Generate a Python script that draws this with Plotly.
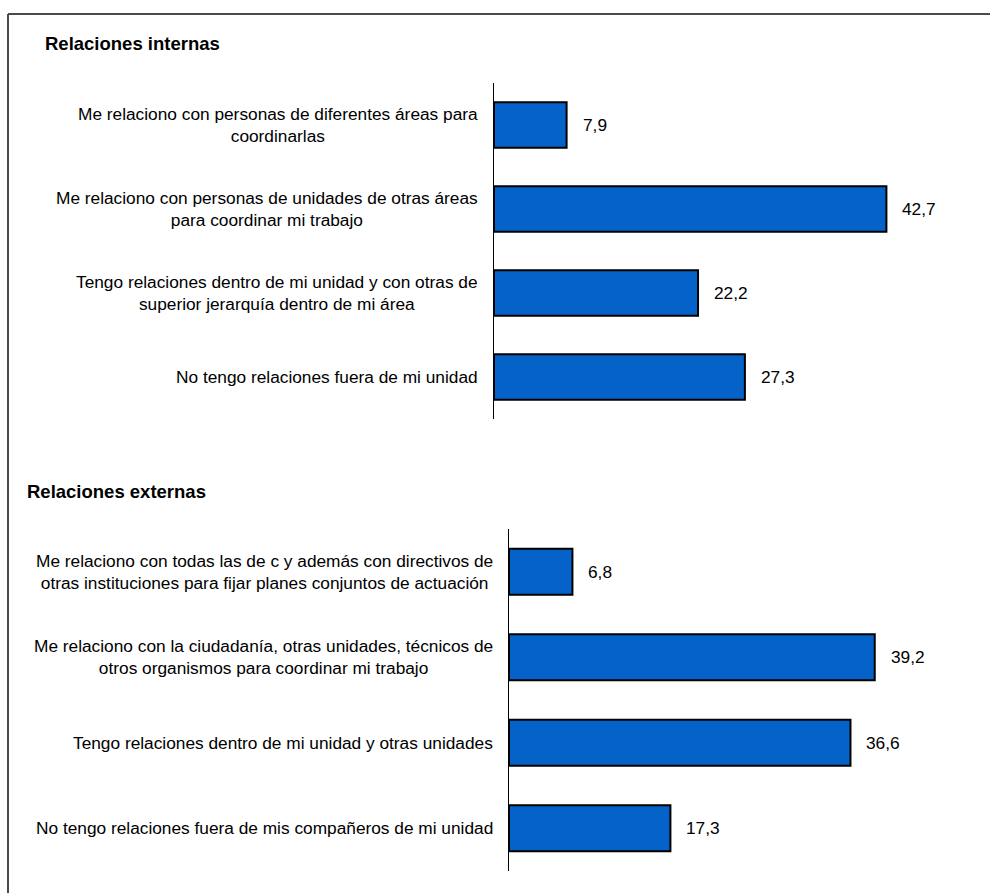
import plotly.graph_objects as go

# Relaciones internas
internas_labels = [
    ["Me relaciono con personas de diferentes áreas para", "coordinarlas"],
    ["Me relaciono con personas de unidades de otras áreas", "para coordinar mi trabajo"],
    ["Tengo relaciones dentro de mi unidad y con otras de", "superior jerarquía dentro de mi área"],
    ["No tengo relaciones fuera de mi unidad"],
]
internas_values = [7.9, 42.7, 22.2, 27.3]

# Relaciones externas
externas_labels = [
    ["Me relaciono con todas las de c y además con directivos de",
     "otras instituciones para fijar planes conjuntos de actuación"],
    ["Me relaciono con la ciudadanía, otras unidades, técnicos de",
     "otros organismos para coordinar mi trabajo"],
    ["Tengo relaciones dentro de mi unidad y otras unidades"],
    ["No tengo relaciones fuera de mis compañeros de mi unidad"],
]
externas_values = [6.8, 39.2, 36.6, 17.3]

section_titles = ["Relaciones internas", "Relaciones externas"]

W, H = 990, 893
FONT = "Arial, Liberation Sans, sans-serif"
BAR_COLOR = "#0462C8"
LABEL_SIZE = 17.3
TITLE_SIZE = 18.5


def fmt(v):
    return f"{v:.1f}".replace(".", ",")


def cat_key(lines):
    return " ".join(lines)


fig = go.Figure()
annotations = []

panels = [
    (internas_labels, internas_values, "x", "y"),
    (externas_labels, externas_values, "x2", "y2"),
]
for labels, values, xr, yr in panels:
    cats = [cat_key(l) for l in labels]
    fig.add_trace(go.Bar(
        x=values, y=cats, orientation="h",
        marker=dict(color=BAR_COLOR, line=dict(color="#000000", width=2)),
        xaxis=xr, yaxis=yr, showlegend=False, hoverinfo="x+y",
    ))
    for lines, cat, v in zip(labels, cats, values):
        # value label to the right of each bar
        annotations.append(dict(x=v, y=cat, xref=xr, yref=yr, text=fmt(v),
                                showarrow=False, xanchor="left", xshift=14,
                                font=dict(family=FONT, size=LABEL_SIZE, color="#000")))
        # category label: block right-aligned against the axis, lines centred
        annotations.append(dict(
            x=0, y=cat, xref=xr, yref=yr, text="<br>".join(lines),
            showarrow=False, align="center", xanchor="right", yanchor="middle",
            xshift=-14, font=dict(family=FONT, size=LABEL_SIZE, color="#000")))

annotations.append(dict(x=43 / W, y=1 - 43.5 / H, xref="paper", yref="paper",
                        text=f"<b>{section_titles[0]}</b>", showarrow=False,
                        xanchor="left", yanchor="middle",
                        font=dict(family=FONT, size=TITLE_SIZE, color="#000")))
annotations.append(dict(x=25 / W, y=1 - 491.5 / H, xref="paper", yref="paper",
                        text=f"<b>{section_titles[1]}</b>", showarrow=False,
                        xanchor="left", yanchor="middle",
                        font=dict(family=FONT, size=TITLE_SIZE, color="#000")))

axis_x = dict(visible=False, range=[0, 50], fixedrange=True)
axis_y = dict(showline=True, linecolor="#000000", linewidth=1, ticks="",
              showticklabels=False, showgrid=False, zeroline=False,
              autorange="reversed")

fig.update_layout(
    width=W, height=H,
    margin=dict(l=0, r=0, t=0, b=0),
    paper_bgcolor="white", plot_bgcolor="white",
    bargap=0.46,
    xaxis=dict(axis_x, domain=[494 / W, (494 + 9.19 * 50) / W], anchor="y"),
    yaxis=dict(axis_y, domain=[1 - 419 / H, 1 - 83 / H], anchor="x"),
    xaxis2=dict(axis_x, domain=[509 / W, (509 + 9.33 * 50) / W], anchor="y2"),
    yaxis2=dict(axis_y, domain=[1 - 871 / H, 1 - 529 / H], anchor="x2"),
    annotations=annotations,
    shapes=[
        dict(type="line", xref="paper", yref="paper", x0=8 / W, x1=1,
             y0=1 - 14 / H, y1=1 - 14 / H, line=dict(color="#4a4a4a", width=2)),
        dict(type="line", xref="paper", yref="paper", x0=8 / W, x1=8 / W,
             y0=1 - 14 / H, y1=0, line=dict(color="#4a4a4a", width=2)),
    ],
    font=dict(family=FONT, size=LABEL_SIZE, color="#000"),
)

fig.write_html("out.html")
